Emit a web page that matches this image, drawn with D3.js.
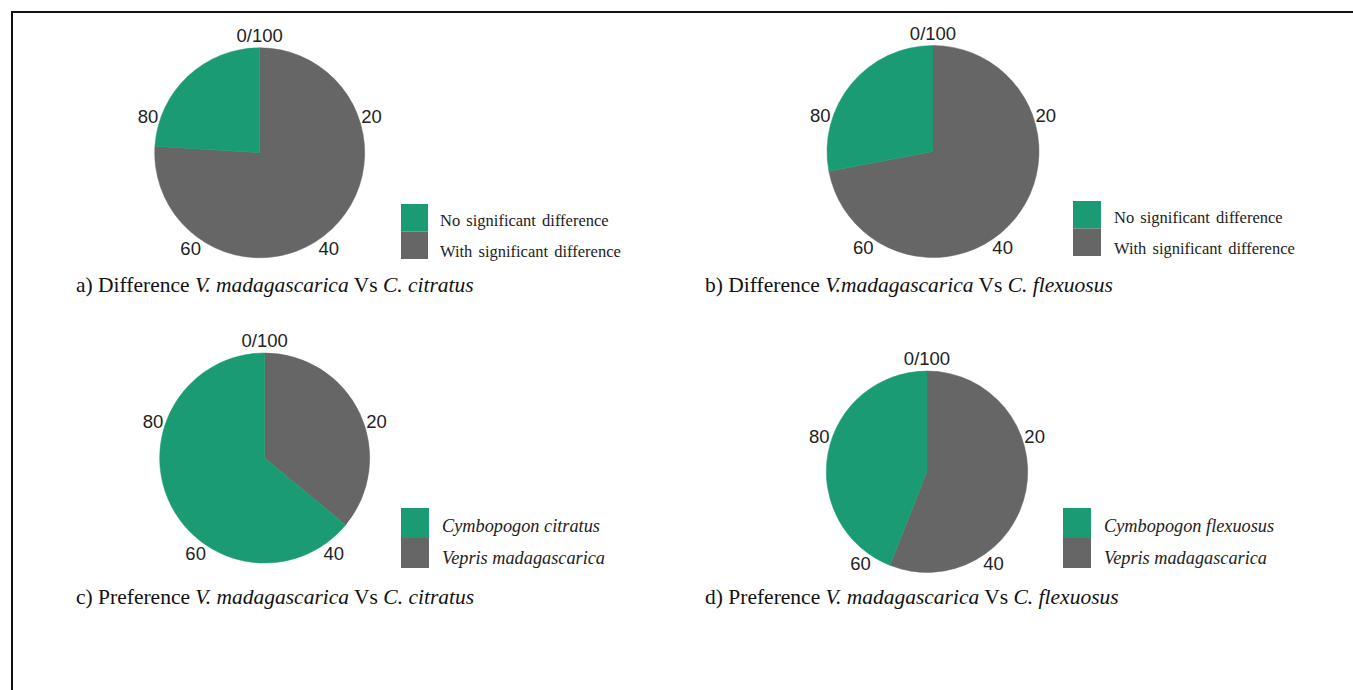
<!DOCTYPE html>
<html>
<head>
<meta charset="utf-8">
<script src="https://cdn.jsdelivr.net/npm/d3@7"></script>
<style>
  html, body { margin: 0; padding: 0; background: #fff; }
  svg { display: block; }
</style>
</head>
<body>
<svg id="fig" width="1353" height="690"></svg>
<script>
// Percent of responses per panel (green share, gray share)
const panelIds = ["a", "b", "c", "d"];
const greenShare = [24, 28, 64, 44];
const grayShare = [76, 72, 36, 56];
const greenNames = ["No significant difference", "No significant difference", "Cymbopogon citratus", "Cymbopogon flexuosus"];
const grayNames = ["With significant difference", "With significant difference", "Vepris madagascarica", "Vepris madagascarica"];
const legendItalic = [false, false, true, true];
const dialTicks = ["0/100", "20", "40", "60", "80"];
const dialTickValues = [0, 20, 40, 60, 80];

// caption pieces: [text, italic]
const captions = [
  [["a) Difference ", false], ["V. madagascarica", true], [" Vs ", false], ["C. citratus", true]],
  [["b) Difference ", false], ["V.madagascarica", true], [" Vs ", false], ["C. flexuosus", true]],
  [["c) Preference ", false], ["V. madagascarica", true], [" Vs ", false], ["C. citratus", true]],
  [["d) Preference ", false], ["V. madagascarica", true], [" Vs ", false], ["C. flexuosus", true]]
];

const GREEN = "#1b9b74";
const GRAY = "#666666";

// layout for each panel
const layout = [
  { cx: 259.7, cy: 152.8, r: 105, lx: 401, ly: 204, sw: 27, sh: 27.5, tx: 440, rows: [16.5, 47.5], cap: [76, 292] },
  { cx: 933, cy: 151.5, r: 106, lx: 1073, ly: 201, sw: 28, sh: 27.5, tx: 1114, rows: [16.5, 47.5], cap: [705, 292] },
  { cx: 264.7, cy: 458, r: 105, lx: 401, ly: 508, sw: 28, sh: 30, tx: 442, rows: [17.5, 49.5], cap: [76, 604] },
  { cx: 927, cy: 471.7, r: 100.7, lx: 1063, ly: 508, sw: 28, sh: 30, tx: 1104, rows: [17.5, 49.5], cap: [705, 604] }
];

const svg = d3.select("#fig");

// frame lines (top and left)
svg.append("line").attr("x1", 11).attr("x2", 1353).attr("y1", 12).attr("y2", 12)
  .attr("stroke", "#111").attr("stroke-width", 2);
svg.append("line").attr("x1", 12).attr("x2", 12).attr("y1", 11).attr("y2", 690)
  .attr("stroke", "#111").attr("stroke-width", 2);

const pie = d3.pie().sort(null).value(d => d.v);
const tickScale = d3.scaleLinear().domain([0, 100]).range([0, 2 * Math.PI]);

panelIds.forEach((id, i) => {
  const L = layout[i];
  const g = svg.append("g").attr("class", "panel-" + id);
  const slices = [
    { name: grayNames[i], v: grayShare[i], color: GRAY },
    { name: greenNames[i], v: greenShare[i], color: GREEN }
  ];
  const arc = d3.arc().innerRadius(0).outerRadius(L.r);
  const pg = g.append("g").attr("transform", `translate(${L.cx},${L.cy})`);
  pg.selectAll("path").data(pie(slices)).join("path")
    .attr("d", arc)
    .attr("fill", d => d.data.color)
    .attr("stroke", d => d.data.color)
    .attr("stroke-width", 0.5);

  // percentage dial labels
  const lr = L.r + 12.5;
  pg.selectAll("text.tick").data(dialTickValues).join("text")
    .attr("class", "tick")
    .attr("x", v => lr * Math.sin(tickScale(v)))
    .attr("y", v => -lr * Math.cos(tickScale(v)))
    .attr("dy", "0.36em")
    .attr("text-anchor", "middle")
    .attr("font-family", "Liberation Sans, Arial, sans-serif")
    .attr("font-size", 18.5)
    .attr("fill", "#222")
    .text((v, k) => dialTicks[k]);

  // legend
  const leg = [
    { name: greenNames[i], color: GREEN },
    { name: grayNames[i], color: GRAY }
  ];
  leg.forEach((it, k) => {
    g.append("rect")
      .attr("x", L.lx).attr("y", L.ly + k * L.sh)
      .attr("width", L.sw).attr("height", L.sh)
      .attr("fill", it.color);
    g.append("text")
      .attr("x", L.tx).attr("y", L.ly + L.rows[k])
      .attr("dy", "0.35em")
      .attr("font-family", "Liberation Serif, Times New Roman, serif")
      .attr("font-size", legendItalic[i] ? 18.3 : 16.5)
      .attr("font-style", legendItalic[i] ? "italic" : "normal")
      .attr("word-spacing", legendItalic[i] ? 0 : 2)
      .attr("fill", "#222")
      .text(it.name);
  });

  // caption
  const t = g.append("text")
    .attr("x", L.cap[0]).attr("y", L.cap[1])
    .attr("font-family", "Liberation Serif, Times New Roman, serif")
    .attr("font-size", 21.5)
    .attr("fill", "#111");
  captions[i].forEach(([s, it]) => {
    t.append("tspan").attr("font-style", it ? "italic" : "normal").text(s);
  });
});
</script>
</body>
</html>
